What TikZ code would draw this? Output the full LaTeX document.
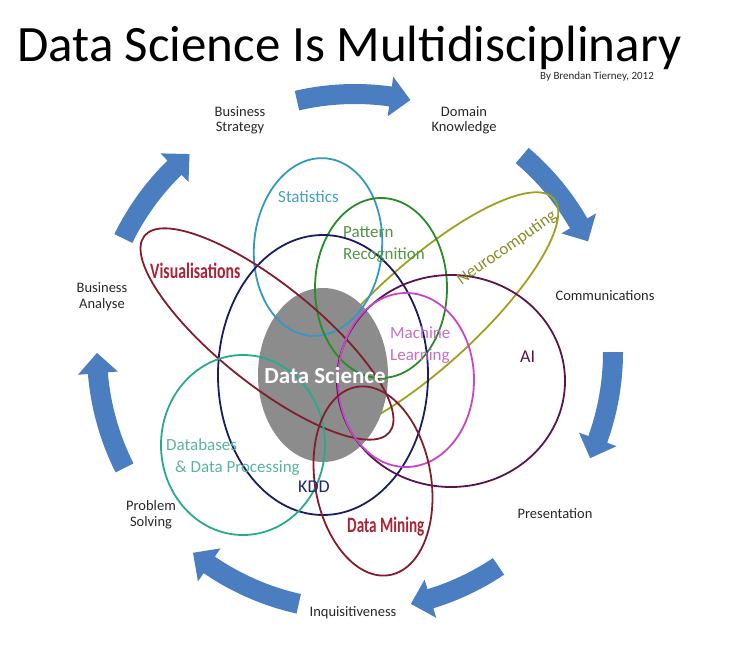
\documentclass[tikz,border=0pt]{standalone}
\usepackage{fontspec}
\setmainfont{Carlito}
\usepackage{graphicx}
\usetikzlibrary{shapes.geometric}
\definecolor{arrowblue}{RGB}{74,126,193}
\definecolor{dsgray}{RGB}{140,140,140}
\definecolor{statc}{RGB}{52,152,196}
\definecolor{stattext}{RGB}{70,160,190}
\definecolor{patc}{RGB}{40,140,40}
\definecolor{pattext}{RGB}{80,150,70}
\definecolor{kddc}{RGB}{25,30,95}
\definecolor{kddtext}{RGB}{30,40,110}
\definecolor{visc}{RGB}{130,30,45}
\definecolor{vistext}{RGB}{170,35,55}
\definecolor{neuroc}{RGB}{160,160,30}
\definecolor{neurotext}{RGB}{140,140,40}
\definecolor{aic}{RGB}{90,20,80}
\definecolor{mlc}{RGB}{200,70,200}
\definecolor{mltext}{RGB}{200,110,200}
\definecolor{dbc}{RGB}{40,170,140}
\definecolor{dbtext}{RGB}{90,180,160}
\definecolor{labgray}{RGB}{40,40,40}
\newcommand\twoc[2]{\vtop{\halign{\hfil##\hfil\cr #1\cr #2\cr}}}
\newcommand\twol[2]{\vtop{\halign{##\hfil\cr #1\cr #2\cr}}}
\begin{document}
\begin{tikzpicture}[x=1pt,y=-1pt,
  ring/.style={ellipse, draw, line width=1.8pt, inner sep=0pt, outer sep=0pt},
  lab/.style={font=\fontsize{14.5}{16}\selectfont, text=labgray, inner sep=0pt, anchor=base},
  elab/.style={font=\fontsize{17}{22}\selectfont, inner sep=0pt, anchor=base west},
  blab/.style={font=\bfseries\fontsize{22}{24}\selectfont, inner sep=0pt, anchor=base west}]
\fill[white] (0,0) rectangle (735,650);
\useasboundingbox (0,0) rectangle (735,650);

% title
\node[anchor=base west, inner sep=0pt, text=black, font=\fontsize{51}{55}\selectfont] (title) at (17,62) {Data Science Is Multidisciplinary};
\node[anchor=base, inner sep=0pt, text=labgray, font=\fontsize{11}{12}\selectfont] (by) at (597,80) {By Brendan Tierney, 2012};

% cycle arrows
\begin{scope}[shift={(355,352)}]
\foreach \a/\b in {-103/-77.6, -49.6/-25.4, 0/24.3, 56.2/77.5, 102.6/128.9, 153.3/179.8, -153.9/-129.9}{
  \fill[arrowblue] (\a:268) arc[start angle=\a, end angle=\b-4.5, radius=268]
     -- (\b-4.5:278) -- (\b:258) -- (\b-4.5:238) -- (\b-4.5:248)
     arc[start angle=\b-4.5, end angle=\a, radius=248] -- cycle;
}
\end{scope}

% outer labels
\node[lab] (bstrat) at (240,116) {\twoc{Business}{Strategy}};
\node[lab] (domain) at (464,116) {\twoc{Domain}{Knowledge}};
\node[lab] (comm) at (605,300) {Communications};
\node[lab] (pres) at (555,518) {Presentation};
\node[lab] (inq) at (353,616) {Inquisitiveness};
\node[lab] (prob) at (151,510) {\twoc{Problem}{Solving}};
\node[lab] (banal) at (102,292) {\twoc{Business}{Analyse}};

% disciplines
\node[ring, draw=neuroc, minimum width=350pt, minimum height=104pt, rotate=42.2] (neuro) at (424,316) {};
\node[ellipse, fill=dsgray, minimum width=130pt, minimum height=174pt, inner sep=0pt] (ds) at (323,375) {};
\node[ring, draw=statc, minimum width=128pt, minimum height=178pt, rotate=-5] (stat) at (318,247) {};
\node[ring, draw=patc, minimum width=132pt, minimum height=180pt] (pat) at (381,288) {};
\node[ring, draw=kddc, minimum width=210pt, minimum height=280pt] (kdd) at (323,375) {};
\node[ring, draw=visc, minimum width=314pt, minimum height=100pt, rotate=-38.7] (vis) at (267,334) {};
\node[ring, draw=aic, minimum width=228pt, minimum height=212pt] (ai) at (451,381) {};
\node[ring, draw=mlc, minimum width=136pt, minimum height=174pt] (ml) at (406,380) {};
\node[ring, draw=dbc, minimum width=164pt, minimum height=180pt] (db) at (243,445) {};
\node[ring, draw=visc, minimum width=116pt, minimum height=191pt, rotate=10] (mine) at (373,481) {};

% discipline labels
\node[elab, text=stattext] (statl) at (278,202) {Statistics};
\node[elab, text=pattext] (patl) at (343,237) {\twol{Pattern}{Recognition}};
\node[elab, text=mltext] (mll) at (390,338) {\twol{Machine}{Learning}};
\node[elab, text=dbtext] (dbl) at (166,450) {\twol{Databases}{\hspace*{9pt}\& Data Processing}};
\node[elab, text=kddtext, font=\fontsize{18}{20}\selectfont] (kddl) at (298,492) {KDD};
\node[elab, text=aic, font=\fontsize{18}{20}\selectfont] (ail) at (520,362) {AI};
\node[inner sep=0pt, text=neurotext, font=\fontsize{17}{20}\selectfont, rotate=35] (neurol) at (507,248) {Neurocomputing};
\node[blab, text=vistext] (visl) at (150,278) {\scalebox{0.72}[1]{Visualisations}};
\node[blab, text=vistext] (minel) at (347,532) {\scalebox{0.69}[1]{Data Mining}};
\node[inner sep=0pt, anchor=base, text=white, font=\bfseries\fontsize{23}{25}\selectfont] (dsl) at (325,383) {Data Science};
\end{tikzpicture}
\end{document}
